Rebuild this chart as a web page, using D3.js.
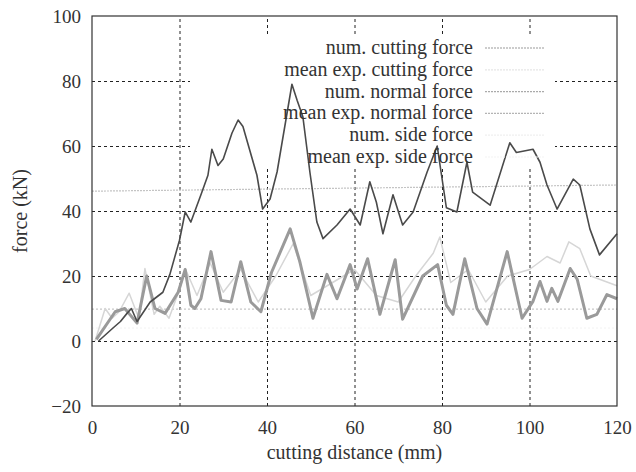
<!DOCTYPE html>
<html>
<head>
<meta charset="utf-8">
<script src="https://cdn.jsdelivr.net/npm/d3@7"></script>
<style>
  body { margin: 0; background: #fff; }
</style>
</head>
<body>
<script>
/* ----------------------
 data
 ----------------------- */
var xTicks = [0, 20, 40, 60, 80, 100, 120];
var yTicks = [-20, 0, 20, 40, 60, 80, 100];

var numCutting = [[1.5,0],[4.8,4],[6.5,6],[8,8.5],[9,10],[10.3,6],[13.3,12],[16.2,15],[17.8,20.5],
  [20,31],[21.3,39.7],[22.6,36.6],[24.9,45],[26.5,51],[27.4,59],[28.8,54],[30,56],[32,64],[33.4,68],
  [34.5,66],[37.7,51],[39,40.6],[40.7,43.7],[42.3,52],[45.7,79],[46.9,74],[48.2,69],[49.8,52],
  [51.4,36.6],[52.8,31.5],[56,35.7],[59,40.6],[61.3,35.7],[63.5,49],[65,42.7],[66.5,33],[68.8,45],
  [71,35.7],[73.4,39.7],[76.6,52],[78.9,60],[81,41],[83.4,39.7],[85.7,55],[87,45.8],[91,41.8],
  [95.5,61],[97,58],[100.8,59],[102.4,55],[104,48],[106.3,40.6],[110,49.8],[111.5,48],[113.8,34.5],
  [116,26.5],[120,33]];

var meanExpCutting = [[0,46.1],[120,48]];

var numNormal = [[1,0.5],[5.3,9],[7.5,10],[10.3,5.5],[12.5,20],[14.4,10],[16.7,8.5],[19.7,15],[21.3,22],
  [22.6,11],[23.5,10],[24.9,13],[27.2,27.5],[29.5,12.5],[31.8,12],[34,24.4],[36.3,12],[38.6,9],[41,21],
  [45.3,34.5],[47.5,24.4],[50.5,7],[53.7,20.5],[56,13],[59,23.5],[60.6,16],[63,25.3],[65.8,8.2],
  [69.3,25],[71,6.7],[75.6,20],[79,23.5],[81,11],[82.5,8.2],[85.2,25.3],[88,10],[90.3,5.2],[94.9,27.5],
  [98.3,7],[100.8,12.2],[102.4,18.3],[104,12.2],[105.1,16.2],[106.5,12.2],[109.3,22.3],[110.9,19],
  [113.1,7],[115.4,8.2],[117.7,14.3],[120,13]];

var meanExpNormal = [[0,9.8],[120,9.8]];

var numSide = [[0.7,0],[3,10],[4.6,7],[6.2,9],[8.5,14.7],[10.7,7],[12.1,22.3],[14.2,8.2],[15.5,10.7],
  [17.6,7],[20.1,16.2],[21.3,22.3],[24,14],[27,24],[30,15],[34,22],[38,12],[42,20],[46,30],[50,14],
  [55,18],[60,22],[65,14],[70,12],[74,20],[78,27],[79.5,32],[82,18],[86,22],[90,12],[95,20],[100,22],
  [104,26],[107,24],[109,30.5],[111.5,28.4],[114,20],[118,18],[120,17]];

var meanExpSide = [[0,4],[120,4]];

var legendLabels = ["num. cutting force", "mean exp. cutting force", "num. normal force",
  "mean exp. normal force", "num. side force", "mean exp. side force"];

/* ----------------------
 setup
 ----------------------- */
var width = 636, height = 472;
var margin = {top: 16, right: 19, bottom: 66, left: 92};
var serif = "Liberation Serif";
var ink = "#333";

var svg = d3.select("body").append("svg")
  .attr("width", width)
  .attr("height", height);

var x = d3.scaleLinear().domain([0, 120]).range([margin.left, width - margin.right]);
var y = d3.scaleLinear().domain([-20, 100]).range([height - margin.bottom, margin.top]);

// grid
svg.append("g")
  .attr("transform", "translate(0," + (height - margin.bottom) + ")")
  .call(d3.axisBottom(x).tickValues(xTicks.slice(1, -1)).tickSize(-(height - margin.top - margin.bottom)).tickFormat(""))
  .call(g => g.select(".domain").remove())
  .selectAll("line").attr("stroke", "#222").attr("stroke-dasharray", "3,3");

svg.append("g")
  .attr("transform", "translate(" + margin.left + ",0)")
  .call(d3.axisLeft(y).tickValues(yTicks.slice(1, -1)).tickSize(-(width - margin.left - margin.right)).tickFormat(""))
  .call(g => g.select(".domain").remove())
  .selectAll("line").attr("stroke", "#222").attr("stroke-dasharray", "3,3");

// key box hides the grid underneath
svg.append("rect")
  .attr("x", 190).attr("y", 37)
  .attr("width", 365).attr("height", 131)
  .attr("fill", "#fff");

// tick labels
svg.append("g")
  .attr("transform", "translate(0," + (height - margin.bottom) + ")")
  .call(d3.axisBottom(x).tickValues(xTicks).tickSize(0).tickPadding(15))
  .call(g => g.select(".domain").remove())
  .selectAll("text")
  .attr("font-family", serif).attr("font-size", 19).attr("fill", ink);

svg.append("g")
  .attr("transform", "translate(" + margin.left + ",0)")
  .call(d3.axisLeft(y).tickValues(yTicks).tickSize(0).tickPadding(11))
  .call(g => g.select(".domain").remove())
  .selectAll("text")
  .attr("font-family", serif).attr("font-size", 19).attr("fill", ink);

// series
var line = d3.line().x(d => x(d[0])).y(d => y(d[1]));

var series = [
  {data: meanExpCutting, color: "#c4c4c4", w: 1.2, dash: "2,1"},
  {data: meanExpNormal, color: "#c8c8c8", w: 1.2, dash: "2,2"},
  {data: meanExpSide, color: "#f2f2f2", w: 1, dash: "2,2"},
  {data: numSide, color: "#d6d6d6", w: 1.5, dash: null},
  {data: numNormal, color: "#9a9a9a", w: 3, dash: null},
  {data: numCutting, color: "#4a4a4a", w: 1.6, dash: null}
];

series.forEach(function(s) {
  svg.append("path")
    .attr("d", line(s.data))
    .attr("fill", "none")
    .attr("stroke", s.color)
    .attr("stroke-width", s.w)
    .attr("stroke-dasharray", s.dash)
    .attr("stroke-linejoin", "round");
});

// frame
svg.append("rect")
  .attr("x", margin.left).attr("y", margin.top)
  .attr("width", width - margin.left - margin.right)
  .attr("height", height - margin.top - margin.bottom)
  .attr("fill", "none").attr("stroke", "#333").attr("stroke-width", 1.2);

// key
var keyColors = ["#9a9a9a", "#e6e6e6", "#aaaaaa", "#b4b4b4", "#f0f0f0", "#f4f4f4"];
legendLabels.forEach(function(lab, i) {
  var yy = 48 + i * 21.8;
  svg.append("text")
    .attr("x", 473).attr("y", yy + 6)
    .attr("text-anchor", "end")
    .attr("font-family", serif).attr("font-size", 20).attr("fill", ink)
    .text(lab);
  svg.append("line")
    .attr("x1", 485).attr("x2", 545)
    .attr("y1", yy).attr("y2", yy)
    .attr("stroke", keyColors[i]).attr("stroke-width", 1.2)
    .attr("stroke-dasharray", "2,1");
});

// axis titles
svg.append("text")
  .attr("x", (margin.left + width - margin.right) / 2)
  .attr("y", 459)
  .attr("text-anchor", "middle")
  .attr("font-family", serif).attr("font-size", 20).attr("fill", ink)
  .text("cutting distance (mm)");

svg.append("text")
  .attr("transform", "translate(27," + ((margin.top + height - margin.bottom) / 2) + ") rotate(-90)")
  .attr("text-anchor", "middle")
  .attr("font-family", serif).attr("font-size", 20).attr("fill", ink)
  .text("force (kN)");
</script>
</body>
</html>
